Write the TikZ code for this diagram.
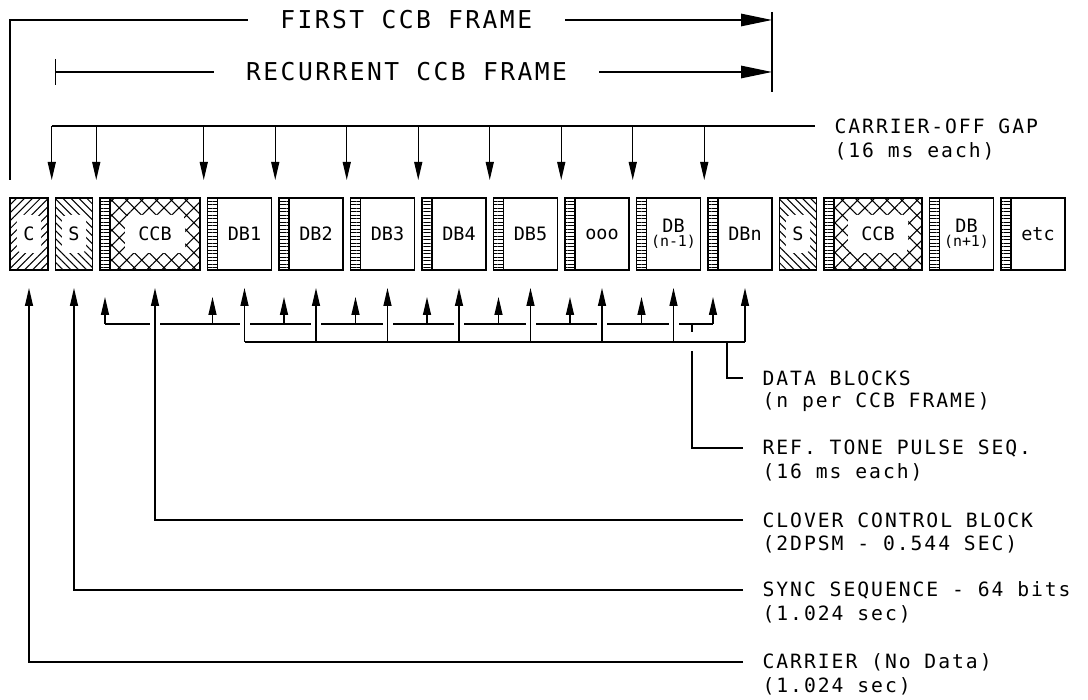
\documentclass[tikz,border=0pt]{standalone}
\usepackage{fontspec}
\usetikzlibrary{positioning,arrows.meta,patterns.meta}
\newfontfamily\cadfont[LetterSpace=10]{DejaVu Sans Mono}
\newfontfamily\blockfont{DejaVu Sans Mono}

\begin{document}
\begin{tikzpicture}[
  node distance=0.15cm,
  line width=0.7pt,
  box/.style={draw, line width=1pt, outer sep=0pt, inner sep=0pt, align=center,
              minimum height=1.44cm, font=\blockfont\fontsize{10.5}{11}\selectfont},
  pulse/.style={box, minimum width=0.2cm,
                pattern={Lines[angle=0,distance=2pt,line width=0.45pt]}},
  data/.style={box, minimum width=1.08cm},
  clear/.style={path picture={\fill[white, rounded corners=3pt]
      ([shift={(-#1,-0.38cm)}]path picture bounding box.center) rectangle
      ([shift={(#1,0.38cm)}]path picture bounding box.center);}},
  carrier/.style={box, minimum width=0.76cm, clear=0.24cm,
                  pattern={Lines[angle=45,distance=3.2pt,line width=0.6pt]}},
  sync/.style={box, minimum width=0.74cm, clear=0.24cm,
               pattern={Lines[angle=-45,distance=3.2pt,line width=0.6pt]}},
  ctrl/.style={box, minimum width=1.8cm, clear=0.6cm,
               pattern={Hatch[angle=45,distance=6pt,line width=0.6pt]}},
  title/.style={fill=white, inner xsep=0.65cm, inner ysep=2pt,
                font=\cadfont\fontsize{14}{16}\selectfont},
  lbl/.style={anchor=west, inner xsep=0.38cm, inner ysep=0pt,
              font=\cadfont\fontsize{11.2}{13}\selectfont},
  frame/.style={-{Triangle[length=0.62cm,width=0.25cm]}},
  down/.style={-{Triangle[length=0.36cm,width=0.16cm]}, shorten >=0.36cm},
  up/.style={-{Triangle[length=0.36cm,width=0.16cm]}, shorten >=#1},
  up/.default=0.36cm,
  halo/.style={preaction={draw=white, line width=#1, -, shorten <=1pt}}
]
  \useasboundingbox (0,0) rectangle (21.76,14);

  % block row
  \node[carrier] (c) at (0.58,9.32) {C};
  \node[sync, right=of c] (s) {S};
  \node[pulse, right=of s] (pccb) {};
  \node[ctrl, right=0pt of pccb] (ccb) {CCB};
  \node[pulse, right=of ccb] (p1) {};
  \node[data, right=0pt of p1] (db1) {DB1};
  \node[pulse, right=of db1] (p2) {};
  \node[data, right=0pt of p2] (db2) {DB2};
  \node[pulse, right=of db2] (p3) {};
  \node[data, right=0pt of p3] (db3) {DB3};
  \node[pulse, right=of db3] (p4) {};
  \node[data, right=0pt of p4] (db4) {DB4};
  \node[pulse, right=of db4] (p5) {};
  \node[data, right=0pt of p5] (db5) {DB5};
  \node[pulse, right=of db5] (po) {};
  \node[data, right=0pt of po] (doo) {ooo};
  \node[pulse, right=of doo] (pn1) {};
  \node[data, right=0pt of pn1] (dbn1) {DB\\[-3pt]{\fontsize{8.5}{9}\selectfont(n-1)}};
  \node[pulse, right=of dbn1] (pn) {};
  \node[data, right=0pt of pn] (dbn) {DBn};
  \node[sync, right=of dbn] (s2) {S};
  \node[pulse, right=of s2] (pccb2) {};
  \node[ctrl, minimum width=1.76cm, right=0pt of pccb2] (ccb2) {CCB};
  \node[pulse, right=of ccb2] (pnp) {};
  \node[data, right=0pt of pnp] (dbnp) {DB\\[-3pt]{\fontsize{8.5}{9}\selectfont(n+1)}};
  \node[pulse, right=of dbnp] (pe) {};
  \node[data, right=0pt of pe] (etc) {etc};

  % frame spans
  \coordinate (top) at (0,13.6);
  \coordinate (rec) at (0,12.56);
  \draw[frame] ([yshift=0.36cm]c.north west) |- node[title, pos=0.76] (first) {FIRST CCB FRAME} (dbn.east |- top);
  \draw[frame] (s.west |- rec) -- node[title, pos=0.49] (recur) {RECURRENT CCB FRAME} (dbn.east |- rec);
  \draw (s.west |- rec) ++(0,0.26) -- ++(0,-0.52);
  \draw (dbn.east |- top) ++(0,0.16) -- ++(0,-1.6);

  % labels
  \node[lbl] (gaplbl) at (16.3,11.48) {CARRIER-OFF GAP};
  \node[lbl] (gapsub) at ([yshift=-0.5cm]gaplbl.west) {(16 ms each)};
  \node[lbl] (datalbl) at (14.86,6.44) {DATA BLOCKS};
  \node[lbl] (datasub) at ([yshift=-0.48cm]datalbl.west) {(n per CCB FRAME)};
  \node[lbl] (reflbl) at (14.86,5.04) {REF. TONE PULSE SEQ.};
  \node[lbl] (refsub) at ([yshift=-0.48cm]reflbl.west) {(16 ms each)};
  \node[lbl] (ctrllbl) at (14.86,3.6) {CLOVER CONTROL BLOCK};
  \node[lbl] (ctrlsub) at ([yshift=-0.48cm]ctrllbl.west) {(2DPSM - 0.544 SEC)};
  \node[lbl] (synclbl) at (14.86,2.2) {SYNC SEQUENCE - 64 bits};
  \node[lbl] (syncsub) at ([yshift=-0.48cm]synclbl.west) {(1.024 sec)};
  \node[lbl] (carlbl) at (14.86,0.76) {CARRIER (No Data)};
  \node[lbl] (carsub) at ([yshift=-0.48cm]carlbl.west) {(1.024 sec)};

  % carrier-off gaps
  \draw ([xshift=0.075cm]c.north east |- gaplbl.west) -- (gaplbl.west);
  \foreach \a in {c,s,ccb,db1,db2,db3,db4,db5,doo,dbn1}
    \draw[down] ([xshift=0.075cm]\a.north east |- gaplbl.west) -- ([xshift=0.075cm]\a.north east);

  % pulse and data pointers
  \coordinate (pl) at (0,7.52);
  \coordinate (dl) at (0,7.16);
  \coordinate (reftap) at (13.84,7.52);
  \coordinate (datatap) at (14.54,7.16);
  \draw (pccb.south |- pl) -- (pn.south |- pl);
  \foreach \p in {pccb,p1,p2,p3,p4,p5,po,pn1,pn}
    \draw[up=0.54cm] (\p.south |- pl) -- (\p.south);
  \draw (reftap) |- (reflbl.west);
  \draw[halo=0.38cm] (db1.south |- dl) -- (dbn.south |- dl);
  \foreach \d in {db1,db2,db3,db4,db5,doo,dbn1,dbn}
    \draw[up, halo=0.2cm] (\d.south |- dl) -- (\d.south);
  \draw (datatap) |- (datalbl.west);
  \draw[up, halo=0.2cm] (ctrllbl.west) -| (ccb.south);
  \draw[up] (synclbl.west) -| (s.south);
  \draw[up] (carlbl.west) -| (c.south);
\end{tikzpicture}
\end{document}
